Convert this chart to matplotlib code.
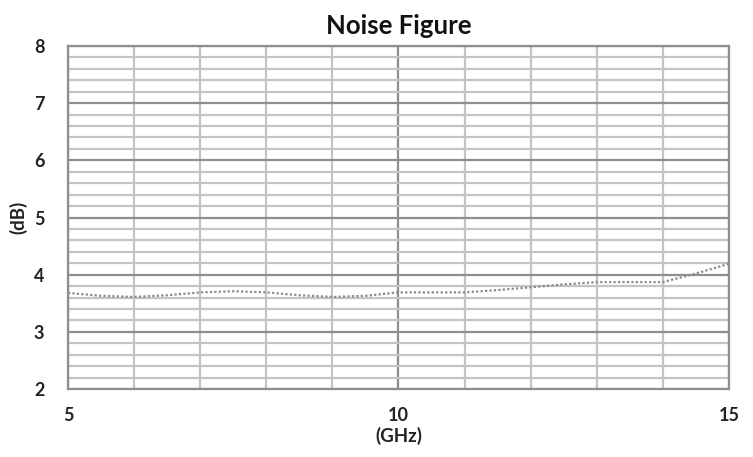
import matplotlib.pyplot as plt
from matplotlib.ticker import MultipleLocator

# frequency (GHz) and noise figure (dB)
freq_ghz = [5, 5.5, 6, 6.5, 7, 7.5, 8, 8.5, 9, 9.5, 10, 10.5, 11, 11.5, 12, 12.5, 13, 13.5, 14, 14.5, 15]
nf_db = [3.68, 3.63, 3.61, 3.64, 3.69, 3.71, 3.69, 3.64, 3.61, 3.63, 3.69, 3.69, 3.69, 3.73,
         3.78, 3.83, 3.87, 3.87, 3.87, 4.02, 4.19]

x_ticks = [5, 10, 15]
y_ticks = [2, 3, 4, 5, 6, 7, 8]

plt.rcParams['font.family'] = ['Lato', 'DejaVu Sans']

fig = plt.figure(figsize=(7.53, 4.57), dpi=100)
ax = fig.add_axes([0.0903, 0.1488, 0.8777, 0.7505])

ax.set_xlim(5, 15)
ax.set_ylim(2, 8)
ax.set_xticks(x_ticks)
ax.set_yticks(y_ticks)
ax.xaxis.set_minor_locator(MultipleLocator(1))
ax.yaxis.set_minor_locator(MultipleLocator(0.2))

# grid: light minor lines, darker major lines
ax.grid(which='minor', color='#c4c4c4', linewidth=1.6)
ax.grid(which='major', color='#8e8e8e', linewidth=1.6)
ax.set_axisbelow(True)

ax.plot(freq_ghz, nf_db, color='#8a8a8a', linestyle=(0, (1, 1)), linewidth=1.6)

for s in ax.spines.values():
    s.set_color('#8e8e8e')
    s.set_linewidth(1.6)

ax.tick_params(which='both', length=0)
ax.tick_params(axis='x', pad=13)
ax.tick_params(axis='y', pad=17)
for lab in ax.get_xticklabels() + ax.get_yticklabels():
    lab.set_fontsize(13)
    lab.set_fontweight('bold')
    lab.set_color('#222222')

ax.set_title('Noise Figure', fontsize=18.5, fontweight='bold', pad=9, color='#111111')
ax.set_xlabel('(GHz)', fontsize=13.5, fontweight='bold', labelpad=2, color='#222222')
ax.set_ylabel('(dB)', fontsize=13.5, fontweight='bold', labelpad=5, color='#222222')

fig.savefig('out.png', dpi=100, facecolor='white')
